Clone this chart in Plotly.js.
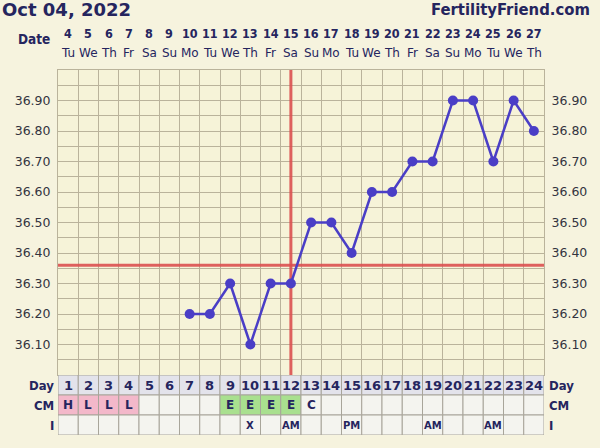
<!DOCTYPE html>
<html><head><meta charset="utf-8">
<script src="https://cdn.plot.ly/plotly-3.0.1.min.js"></script>
<style>html,body{margin:0;padding:0;background:#f6f3de;}</style>
</head><body><div id="chart" style="width:600px;height:448px;"></div>
<script>
const chartTitle = "Oct 04, 2022";
const siteName = "FertilityFriend.com";
const cycleDays = [1,2,3,4,5,6,7,8,9,10,11,12,13,14,15,16,17,18,19,20,21,22,23,24];
const dates = [4,5,6,7,8,9,10,11,12,13,14,15,16,17,18,19,20,21,22,23,24,25,26,27];
const weekdays = ["Tu","We","Th","Fr","Sa","Su","Mo","Tu","We","Th","Fr","Sa","Su","Mo","Tu","We","Th","Fr","Sa","Su","Mo","Tu","We","Th"];
const temperatures = [null,null,null,null,null,null,36.20,36.20,36.30,36.10,36.30,36.30,36.50,36.50,36.40,36.60,36.60,36.70,36.70,36.90,36.90,36.70,36.90,36.80];
const cmLabels = ["H","L","L","L","","","","","E","E","E","E","C","","","","","","","","","","",""];
const intercourseLabels = ["","","","","","","","","","X","","AM","","","PM","","","","AM","","","AM","",""];
const ovulationDay = 12;
const coverline = 36.36;
const tempRange = [36.0, 37.0];
const yLabelVals = [36.10,36.20,36.30,36.40,36.50,36.60,36.70,36.80,36.90];
const yLabelText = ["36.10","36.20","36.30","36.40","36.50","36.60","36.70","36.80","36.90"];
const rowNames = ["Day","CM","I"];

const NAVY = "#25255e";
const GRID = "#bab39b";
const CELL_LINE = "#a8a59a";
const cmColor = {H:"#f3b8ca", L:"#f3b8ca", E:"#a9e08f"};
const BOLD = "DejaVu Sans, Verdana, sans-serif";
const COND = "DejaVu Sans Condensed, DejaVu Sans, sans-serif";

const first = cycleDays[0] - 0.5, last = cycleDays[cycleDays.length-1] + 0.5;
const boundaries = cycleDays.map(d => d - 0.5).concat([last]);

const traces = [
  {x:[first,last], y:[coverline,coverline], xaxis:'x', yaxis:'y', mode:'lines',
   line:{color:'rgba(220,80,80,0.9)', width:3}, hoverinfo:'skip', showlegend:false},
  {x:[ovulationDay,ovulationDay], y:tempRange, xaxis:'x', yaxis:'y', mode:'lines',
   line:{color:'rgba(220,80,80,0.9)', width:3}, hoverinfo:'skip', showlegend:false},
  {x:cycleDays, y:temperatures, xaxis:'x', yaxis:'y', mode:'lines+markers', connectgaps:false,
   line:{color:'#4a3ec6', width:2.5}, marker:{color:'#4a3ec6', size:10}, showlegend:false},
  {x:[null], y:[null], xaxis:'x', yaxis:'y3', showlegend:false, hoverinfo:'skip'},
  {x:[null], y:[null], xaxis:'x', yaxis:'y4', showlegend:false, hoverinfo:'skip'}
];

const shapes = [];
const annotations = [];
cycleDays.forEach((d, i) => {
  const cells = [
    {r:2, fill:'#e3e3eb', text:String(d), size:13},
    {r:1, fill:cmColor[cmLabels[i]] || '#f4f4ef', text:cmLabels[i], size:12},
    {r:0, fill:'#f4f4ef', text:intercourseLabels[i], size:10}
  ];
  cells.forEach(c => {
    shapes.push({type:'rect', xref:'x', yref:'y2', x0:d-0.5, x1:d+0.5, y0:c.r, y1:c.r+1,
      fillcolor:c.fill, line:{color:CELL_LINE, width:1}, layer:'above'});
    if (c.text) annotations.push({xref:'x', yref:'y2', x:d, y:c.r+0.5, text:'<b>'+c.text+'</b>',
      showarrow:false, font:{family:BOLD, size:c.size, color:NAVY}});
  });
  annotations.push({xref:'x', yref:'paper', x:d, y:1, yshift:37, yanchor:'middle', showarrow:false,
    text:'<b>'+dates[i]+'</b>', font:{family:COND, size:12.5, color:NAVY}});
  annotations.push({xref:'x', yref:'paper', x:d, y:1, yshift:17, yanchor:'middle', showarrow:false,
    text:weekdays[i], font:{family:BOLD, size:12, color:NAVY}});
});
rowNames.forEach((name, k) => {
  const r = 2 - k;
  annotations.push({xref:'paper', yref:'y2', x:0, xshift:-2, xanchor:'right', y:r+0.5, showarrow:false,
    text:'<b>'+name+'</b>', font:{family:COND, size:13, color:NAVY}});
  annotations.push({xref:'paper', yref:'y2', x:1, xshift:3, xanchor:'left', y:r+0.5, showarrow:false,
    text:'<b>'+name+'</b>', font:{family:COND, size:13, color:NAVY}});
});
annotations.push({xref:'paper', yref:'paper', x:0, xshift:-6, xanchor:'right', y:1, yshift:31, yanchor:'middle',
  showarrow:false, text:'<b>Date</b>', font:{family:COND, size:13.5, color:NAVY}});
annotations.push({xref:'paper', yref:'paper', x:0, xshift:-58, xanchor:'left', y:1, yshift:61, yanchor:'middle',
  showarrow:false, text:'<b>'+chartTitle+'</b>', font:{family:BOLD, size:18, color:NAVY}});
annotations.push({xref:'paper', yref:'paper', x:1, xshift:48, xanchor:'right', y:1, yshift:61, yanchor:'middle',
  showarrow:false, text:'<b>'+siteName+'</b>', font:{family:COND, size:16.5, color:NAVY}});

const tableFrac = 60/365;
const layout = {
  width:600, height:448,
  margin:{l:58, r:56, t:70, b:13, pad:0},
  paper_bgcolor:'#f6f3de', plot_bgcolor:'#f6f3d8',
  xaxis:{range:[first,last], tickmode:'array', tickvals:boundaries, showticklabels:false, showgrid:true,
    gridcolor:GRID, gridwidth:1, zeroline:false, showline:true, mirror:true, linecolor:GRID, linewidth:1,
    anchor:'y', fixedrange:true},
  yaxis:{domain:[tableFrac,1], range:tempRange, tick0:36.0, dtick:0.05, showticklabels:false, showgrid:true,
    gridcolor:GRID, gridwidth:1, zeroline:false, showline:true, mirror:true, linecolor:GRID, linewidth:1,
    anchor:'x'},
  yaxis2:{domain:[0,tableFrac], range:[0,3], visible:false, anchor:'x'},
  yaxis3:{overlaying:'y', side:'left', range:tempRange, tickmode:'array', tickvals:yLabelVals, ticktext:yLabelText,
    showgrid:false, zeroline:false, ticks:'outside', ticklen:4, tickcolor:'rgba(0,0,0,0)',
    tickfont:{family:BOLD, size:12.5, color:'#333340'}, anchor:'x'},
  yaxis4:{overlaying:'y', side:'right', range:tempRange, tickmode:'array', tickvals:yLabelVals, ticktext:yLabelText,
    showgrid:false, zeroline:false, ticks:'outside', ticklen:4, tickcolor:'rgba(0,0,0,0)',
    tickfont:{family:BOLD, size:12.5, color:'#333340'}, anchor:'x'},
  shapes:shapes, annotations:annotations, showlegend:false, hovermode:false
};
Plotly.newPlot('chart', traces, layout, {staticPlot:true, displayModeBar:false});
</script></body></html>
